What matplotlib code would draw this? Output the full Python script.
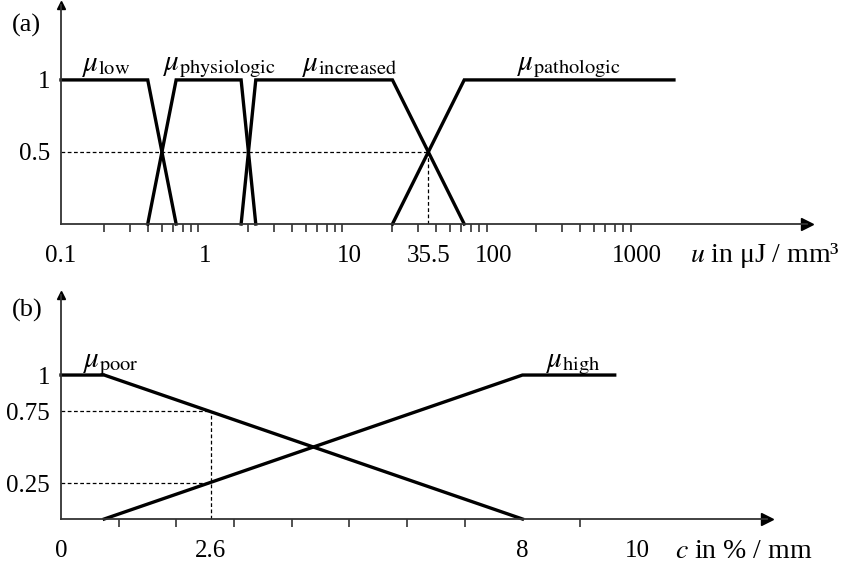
import matplotlib
matplotlib.use("Agg")
import matplotlib.pyplot as plt

plt.rcParams["font.family"] = ["Liberation Serif", "DejaVu Serif"]
plt.rcParams["mathtext.fontset"] = "stix"

# ── (a) energy density u, log scale ──────────────────────────────────────────
low_x,  low_y  = [0.1, 0.4, 0.63],        [1, 1, 0]
phys_x, phys_y = [0.4, 0.63, 1.78, 2.25], [0, 1, 1, 0]
incr_x, incr_y = [1.78, 2.25, 20, 63],    [0, 1, 1, 0]
path_x, path_y = [20, 63, 1800],          [0, 1, 1]
u_cross = 35.5
a_ticks  = [0.1, 1, 10, 35.5, 100, 1000]
a_labels = ["0.1", "1", "10", "35.5", "100", "1000"]
a_minor  = [k * 10.0**n for n in range(-1, 3) for k in range(1, 10) if k * 10.0**n > 0.1] + [1000]

# ── (b) c in % / mm, linear ──────────────────────────────────────────────────
poor_x, poor_y = [0, 0.75, 8],   [1, 1, 0]
high_x, high_y = [0.75, 8, 9.6], [0, 1, 1]
c_mark = 2.6
b_ticks  = [0, 2.6, 8, 10]
b_labels = ["0", "2.6", "8", "10"]
b_minor  = list(range(1, 11))

W, H = 848, 565
fig = plt.figure(figsize=(W / 100, H / 100), dpi=100)
axA = fig.add_axes([61 / W, 1 - 224 / H, 746 / W, 219 / H])
axB = fig.add_axes([61 / W, 1 - 519 / H, 706 / W, 224 / H])

LW = 2.4
AX_C = "#333333"


def style_axes(ax):
    for s in ("top", "right"):
        ax.spines[s].set_visible(False)
    for s in ("left", "bottom"):
        ax.spines[s].set_color(AX_C)
        ax.spines[s].set_linewidth(1.3)
    ax.plot(1, 0, marker=">", color="k", ms=8, transform=ax.transAxes, clip_on=False)
    ax.plot(0, 1, marker="^", color="k", ms=6, transform=ax.transAxes, clip_on=False)
    ax.tick_params(axis="x", which="major", length=0, pad=15, labelsize=18)
    ax.tick_params(axis="x", which="minor", length=6, width=1.2, color=AX_C, direction="out")
    ax.tick_params(axis="y", length=0, pad=8, labelsize=18)


# panel (a)
axA.set_xscale("log")
axA.set_xlim(0.1, 15100)
axA.set_ylim(0, 1.52)
style_axes(axA)
for xs, ys in [(low_x, low_y), (phys_x, phys_y), (incr_x, incr_y), (path_x, path_y)]:
    axA.plot(xs, ys, color="k", lw=LW, solid_joinstyle="miter", clip_on=False)
axA.plot([0.1, u_cross], [0.5, 0.5], color="k", lw=0.9, ls=(0, (3, 2)))
axA.plot([u_cross, u_cross], [0, 0.5], color="k", lw=0.9, ls=(0, (3, 2)))
axA.set_xticks(a_ticks)
axA.set_xticklabels(a_labels)
axA.set_xticks(a_minor, minor=True)
axA.xaxis.set_minor_formatter(matplotlib.ticker.NullFormatter())
axA.set_yticks([0.5, 1])
axA.set_yticklabels(["0.5", "1"])

mu_a = [(0.14, r"$\mu_{\mathrm{low}}$"), (0.51, r"$\mu_{\mathrm{physiologic}}$"),
        (4.7, r"$\mu_{\mathrm{increased}}$"), (147, r"$\mu_{\mathrm{pathologic}}$")]
for x, s in mu_a:
    axA.text(x, 1.065, s, fontsize=21, ha="left", va="baseline")

# panel (b)
axB.set_xlim(0, 12.24)
axB.set_ylim(0, 1.556)
style_axes(axB)
for xs, ys in [(poor_x, poor_y), (high_x, high_y)]:
    axB.plot(xs, ys, color="k", lw=LW, solid_joinstyle="miter", clip_on=False)
for yv in (0.75, 0.25):
    axB.plot([0, c_mark], [yv, yv], color="k", lw=0.9, ls=(0, (3, 2)))
axB.plot([c_mark, c_mark], [0, 0.75], color="k", lw=0.9, ls=(0, (3, 2)))
axB.set_xticks(b_ticks)
axB.set_xticklabels(b_labels)
axB.set_xticks(b_minor, minor=True)
axB.set_yticks([0.25, 0.75, 1])
axB.set_yticklabels(["0.25", "0.75", "1"])

axB.text(0.38, 1.056, r"$\mu_{\mathrm{poor}}$", fontsize=21, ha="left", va="baseline")
axB.text(8.4, 1.056, r"$\mu_{\mathrm{high}}$", fontsize=21, ha="left", va="baseline")

# panel letters and axis names
fig.text(12 / W, 1 - 25 / H, "(a)", fontsize=19, ha="left", va="center")
fig.text(12 / W, 1 - 310 / H, "(b)", fontsize=19, ha="left", va="center")
fig.text(690 / W, 1 - 256 / H, r"$u$ in μJ / mm³", fontsize=20, ha="left", va="center")
fig.text(675 / W, 1 - 552 / H, r"$c$ in % / mm", fontsize=20, ha="left", va="center")

fig.savefig("out.png", dpi=100)
